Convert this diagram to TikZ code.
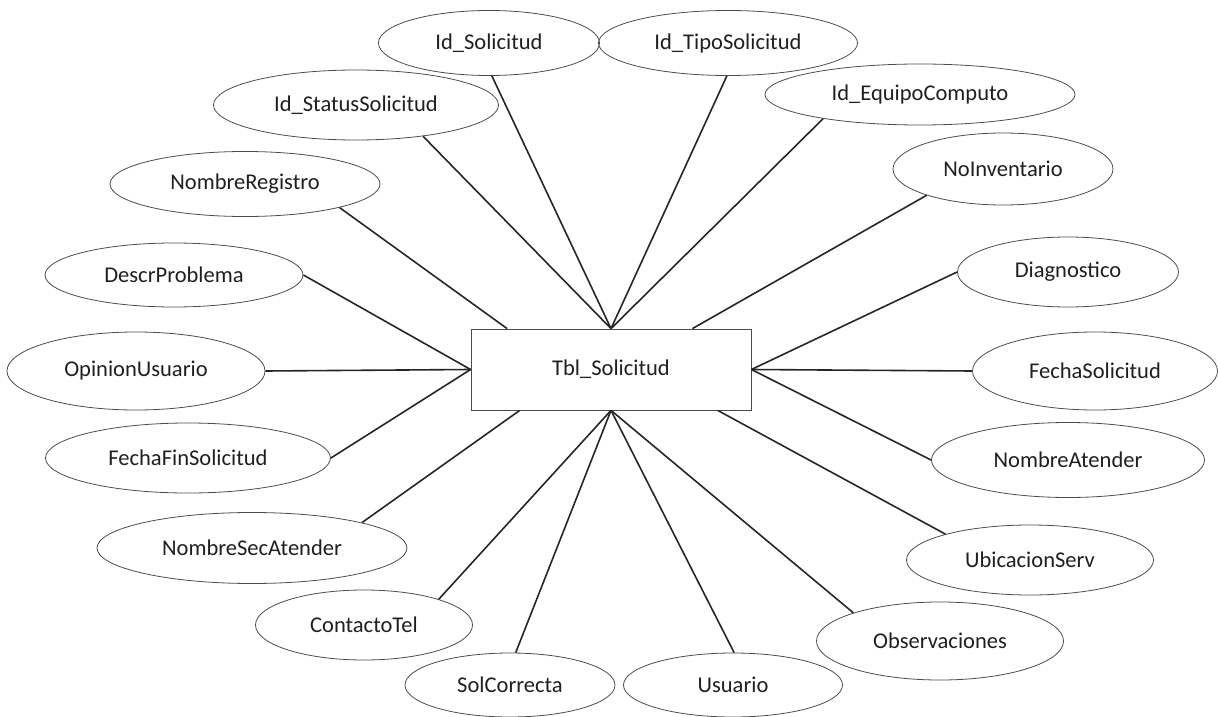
\documentclass[tikz,border=0pt]{standalone}
\usepackage{fontspec}
\setmainfont{Carlito}
\usetikzlibrary{shapes.geometric,calc}

\tikzset{
  attr/.style 2 args={ellipse, draw=black!70, line width=0.6pt, inner sep=0pt,
    minimum width=#1*0.75pt, minimum height=#2*0.75pt,
    font=\fontsize{16.9}{20}\selectfont, text=black!88},
  entity/.style={rectangle, draw=black!70, line width=0.6pt, inner sep=0pt,
    minimum width=210pt, minimum height=60.75pt,
    font=\fontsize{16.9}{20}\selectfont, text=black!88},
  link/.style={draw=black!85, line width=1.2pt}
}

\begin{document}
\begin{tikzpicture}[x=0.75pt, y=-0.75pt]
  \useasboundingbox (0,0) rectangle (1218,717);

  % central entity
  \node[entity] (tbl) at (611,369.5) {Tbl\_Solicitud};

  % attribute ellipses
  \node[attr={221}{65}] (sol)   at (489,43)   {Id\_Solicitud};
  \node[attr={259}{65}] (tipo)  at (728,43)   {Id\_TipoSolicitud};
  \node[attr={285}{70}] (stat)  at (356,105)  {Id\_StatusSolicitud};
  \node[attr={310}{61}] (equ)   at (920,94.5) {Id\_EquipoComputo};
  \node[attr={220}{72}] (inv)   at (1003,169) {NoInventario};
  \node[attr={270}{65}] (reg)   at (245,184)  {NombreRegistro};
  \node[attr={258}{64}] (desc)  at (174,275)  {DescrProblema};
  \node[attr={221}{70}] (diag)  at (1068,272) {Diagnostico};
  \node[attr={245}{78}] (fsol)  at (1095,371) {FechaSolicitud};
  \node[attr={258}{78}] (opin)  at (136,371)  {OpinionUsuario};
  \node[attr={285}{70}] (ffin)  at (188,458)  {FechaFinSolicitud};
  \node[attr={273}{75}] (natn)  at (1068,460) {NombreAtender};
  \node[attr={310}{71}] (nsec)  at (252,548)  {NombreSecAtender};
  \node[attr={247}{70}] (ubic)  at (1030,560) {UbicacionServ};
  \node[attr={217}{70}] (cont)  at (364,625)  {ContactoTel};
  \node[attr={247}{78}] (obs)   at (940,641)  {Observaciones};
  \node[attr={210}{64}] (solc)  at (510,685)  {SolCorrecta};
  \node[attr={219}{64}] (usu)   at (733,685)  {Usuario};

  % attachment points on the entity box
  \coordinate (tTop)  at (tbl.north);
  \coordinate (tBot)  at (tbl.south);
  \coordinate (tLeft) at (tbl.west);
  \coordinate (tRight) at (tbl.east);
  \coordinate (tTopL) at ($(tbl.north west)!0.13!(tbl.north east)$);
  \coordinate (tTopR) at ($(tbl.north west)!0.79!(tbl.north east)$);
  \coordinate (tBotL) at ($(tbl.south west)!0.175!(tbl.south east)$);
  \coordinate (tBotR) at ($(tbl.south west)!0.88!(tbl.south east)$);

  % connectors
  \draw[link] (sol.-85)   -- (tTop);
  \draw[link] (tipo.-92)  -- (tTop);
  \draw[link] (stat.-25)  -- (tTop);
  \draw[link] (equ.-166)  -- (tTop);
  \draw[link] (inv.-161)  -- (tTopR);
  \draw[link] (reg.-14)   -- (tTopL);
  \draw[link] (desc.0)    -- (tLeft);
  \draw[link] (opin.0)    -- (tLeft);
  \draw[link] (ffin.0)    -- (tLeft);
  \draw[link] (diag.180)  -- (tRight);
  \draw[link] (fsol.180)  -- (tRight);
  \draw[link] (natn.180)  -- (tRight);
  \draw[link] (nsec.13)   -- (tBotL);
  \draw[link] (ubic.163)  -- (tBotR);
  \draw[link] (cont.19)   -- (tBot);
  \draw[link] (solc.80)   -- (tBot);
  \draw[link] (usu.88)    -- (tBot);
  \draw[link] (obs.162)   -- (tBot);
\end{tikzpicture}
\end{document}
